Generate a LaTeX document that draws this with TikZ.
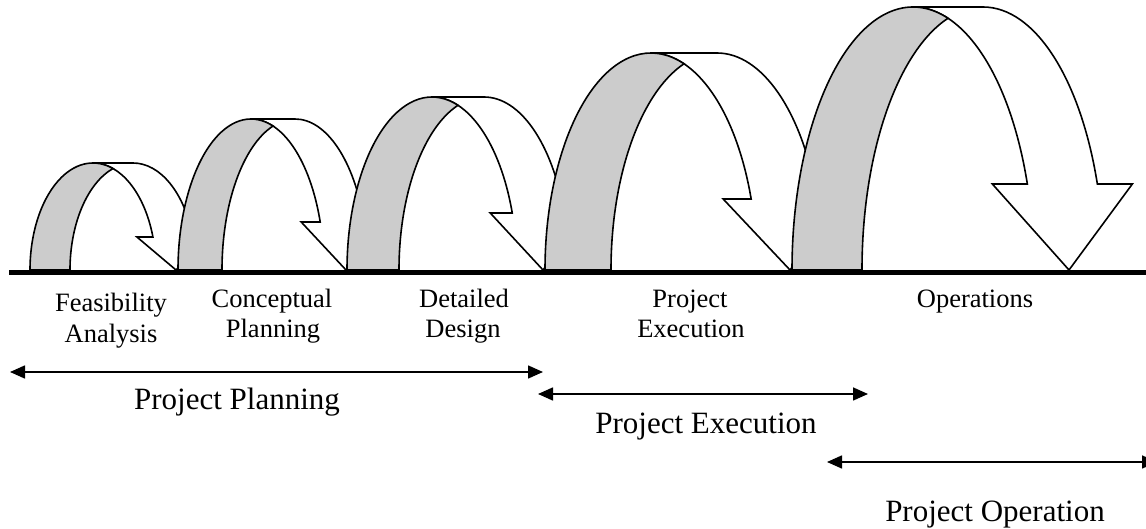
\documentclass[tikz,border=0pt]{standalone}
\usepackage{fontspec}
\setmainfont{Liberation Serif}
\usetikzlibrary{arrows.meta}
\definecolor{bandgray}{RGB}{204,204,204}
\tikzset{
  ribbonline/.style={line width=1.6pt, draw=black, line join=miter},
  smalllabel/.style={anchor=base, inner sep=0pt, font=\fontsize{26.5}{31}\selectfont},
  biglabel/.style={anchor=base, inner sep=0pt, font=\fontsize{31}{37}\selectfont},
  spanarrow/.style={line width=1.6pt, {Triangle[length=15pt,width=13pt]}-{Triangle[length=15pt,width=13pt]}},
}
\begin{document}
\begin{tikzpicture}[x=1pt,y=1pt]
\useasboundingbox (0,-259) rectangle (1146,270);
% curved ribbon arrows made of two equal ellipses A (centre c) and B (centre c+th)
% c / wR / h / th / ah / dh
\foreach \c/\wR/\h/\th/\ah/\dh in {
  93/63/107/40/33/16,
  251/73/151/44/48/19,
  432/85/173/52/57/22,
  651/106/217/66/71/28,
  913/121/263/70/86/35}{
  \pgfmathsetmacro\thP{acos(\th/(2*\wR))}
  \pgfmathsetmacro\thB{180-\thP}
  \pgfmathsetmacro\thN{asin(\ah/\h)}
  \pgfmathsetmacro\dx{\wR*cos(\thN)}
  \pgfmathsetmacro\cB{\c+\th}
  \pgfmathsetmacro\xL{\c-\wR}
  \pgfmathsetmacro\xv{\c+\dx}
  \pgfmathsetmacro\xw{\c+\th+\dx}
  \pgfmathsetmacro\xl{\xv-\dh}
  \pgfmathsetmacro\xr{\xw+\dh}
  \pgfmathsetmacro\xt{(\xl+\xr)/2+\wR-\dx}
  % front (white) band
  \draw[ribbonline, fill=white] (\c,\h) -- (\cB,\h)
    arc[start angle=90, end angle=\thN, x radius=\wR pt, y radius=\h pt]
    -- (\xr,\ah) -- (\xt,0) -- (\xl,\ah) -- (\xv,\ah)
    arc[start angle=\thN, end angle=90, x radius=\wR pt, y radius=\h pt]
    -- cycle;
  % back (grey) band
  \draw[ribbonline, fill=bandgray] (\xL,0)
    arc[start angle=180, end angle=\thP, x radius=\wR pt, y radius=\h pt]
    arc[start angle=\thB, end angle=180, x radius=\wR pt, y radius=\h pt]
    -- cycle;
}
% ground line
\coordinate (g1) at (9,-2.5);
\coordinate (g2) at (1150,-2.5);
\draw[line width=5pt] (g1) -- (g2);
% phase labels
\node[smalllabel] (fa1) at (111,-42) {Feasibility};
\node[smalllabel] (fa2) at (111,-73) {Analysis};
\node[smalllabel] (cp1) at (272,-38) {Conceptual};
\node[smalllabel] (cp2) at (273,-68) {Planning};
\node[smalllabel] (dd1) at (464,-38) {Detailed};
\node[smalllabel] (dd2) at (463,-68) {Design};
\node[smalllabel] (pe1) at (690,-38) {Project};
\node[smalllabel] (pe2) at (691,-68) {Execution};
\node[smalllabel] (op1) at (975,-38) {Operations};
% span arrows
\coordinate (ppL) at (10,-102);
\coordinate (ppR) at (543,-102);
\draw[spanarrow] (ppL) -- (ppR);
\node[biglabel] (pp) at (237,-140) {Project Planning};
\coordinate (peL) at (538,-124);
\coordinate (peR) at (868,-124);
\draw[spanarrow] (peL) -- (peR);
\node[biglabel] (pe) at (706,-164) {Project Execution};
\coordinate (poL) at (827,-192);
\coordinate (poR) at (1157,-192);
\draw[spanarrow] (poL) -- (poR);
\node[biglabel] (po) at (995,-252) {Project Operation};
\end{tikzpicture}
\end{document}
